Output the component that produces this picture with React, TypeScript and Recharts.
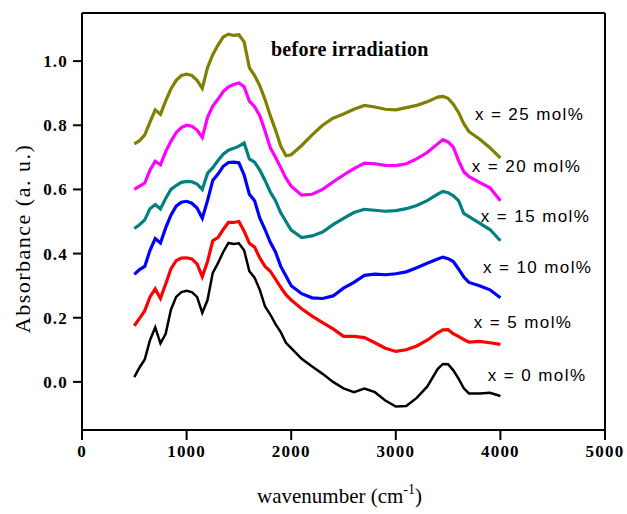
import React from 'react';
import { LineChart, Line, XAxis, YAxis, ReferenceLine, ReferenceDot } from 'recharts';

// Wavenumber grid (cm^-1) shared by all spectra
const wavenumbers = [
  500, 550, 600, 650, 700, 750, 800, 850, 900, 950, 1000, 1050, 1100, 1150, 1200, 1250, 1300, 1350,
  1400, 1450, 1500, 1550, 1600, 1650, 1700, 1750, 1800, 1850, 1900, 1950, 2000, 2100, 2200, 2300,
  2400, 2500, 2600, 2700, 2800, 2900, 3000, 3100, 3200, 3300, 3400, 3450, 3500, 3550, 3600, 3650,
  3700, 3800, 3900, 4000,
];

// Absorbance (a. u.) per composition
const abs0 = [
  0.015, 0.045, 0.07, 0.13, 0.17, 0.12, 0.15, 0.225, 0.265, 0.28, 0.284, 0.28, 0.265, 0.215, 0.255, 0.34, 0.37, 0.405,
  0.433, 0.43, 0.432, 0.41, 0.345, 0.325, 0.287, 0.235, 0.21, 0.18, 0.155, 0.122, 0.105, 0.072, 0.048, 0.025,
  0.0, -0.02, -0.032, -0.021, -0.032, -0.058, -0.077, -0.075, -0.05, -0.015, 0.04, 0.056, 0.055, 0.036, 0.01, -0.02,
  -0.036, -0.036, -0.034, -0.044,
];
const abs5 = [
  0.175, 0.198, 0.222, 0.265, 0.29, 0.26, 0.305, 0.352, 0.378, 0.386, 0.387, 0.383, 0.368, 0.328, 0.375, 0.44, 0.45, 0.475,
  0.497, 0.497, 0.5, 0.47, 0.432, 0.42, 0.386, 0.36, 0.345, 0.32, 0.295, 0.272, 0.255, 0.228, 0.205, 0.185,
  0.165, 0.142, 0.142, 0.138, 0.122, 0.105, 0.095, 0.1, 0.112, 0.13, 0.153, 0.162, 0.163, 0.15, 0.142, 0.132,
  0.124, 0.126, 0.122, 0.117,
];
const abs10 = [
  0.335, 0.35, 0.36, 0.41, 0.447, 0.433, 0.48, 0.52, 0.548, 0.56, 0.563, 0.557, 0.542, 0.51, 0.565, 0.628, 0.648, 0.672,
  0.684, 0.685, 0.683, 0.645, 0.585, 0.565, 0.51, 0.475, 0.435, 0.405, 0.36, 0.33, 0.3, 0.275, 0.262, 0.26,
  0.268, 0.292, 0.31, 0.332, 0.336, 0.334, 0.337, 0.343, 0.356, 0.37, 0.383, 0.389, 0.384, 0.375, 0.352, 0.327,
  0.31, 0.3, 0.287, 0.262,
];
const abs15 = [
  0.478, 0.49, 0.505, 0.54, 0.553, 0.539, 0.572, 0.6, 0.612, 0.622, 0.625, 0.624, 0.617, 0.6, 0.65, 0.668, 0.69, 0.71,
  0.722, 0.728, 0.735, 0.745, 0.695, 0.685, 0.66, 0.628, 0.592, 0.565, 0.527, 0.5, 0.473, 0.45, 0.455, 0.467,
  0.49, 0.51, 0.528, 0.538, 0.535, 0.532, 0.534, 0.54, 0.55, 0.565, 0.585, 0.594, 0.59, 0.58, 0.565, 0.525,
  0.515, 0.495, 0.475, 0.44,
];
const abs20 = [
  0.6, 0.61, 0.62, 0.66, 0.688, 0.677, 0.718, 0.75, 0.777, 0.793, 0.8, 0.797, 0.785, 0.762, 0.825, 0.86, 0.881, 0.905,
  0.92, 0.927, 0.932, 0.92, 0.875, 0.858, 0.83, 0.782, 0.73, 0.7, 0.668, 0.635, 0.61, 0.582, 0.585, 0.6,
  0.623, 0.645, 0.665, 0.682, 0.68, 0.675, 0.674, 0.68, 0.695, 0.715, 0.742, 0.755, 0.748, 0.732, 0.69, 0.655,
  0.64, 0.622, 0.605, 0.565,
];
const abs25 = [
  0.742, 0.752, 0.77, 0.81, 0.848, 0.834, 0.876, 0.913, 0.94, 0.955, 0.959, 0.955, 0.94, 0.915, 0.98, 1.02, 1.05, 1.075,
  1.084, 1.08, 1.082, 1.06, 0.98, 0.955, 0.923, 0.88, 0.83, 0.785, 0.735, 0.705, 0.708, 0.737, 0.77, 0.8,
  0.822, 0.835, 0.85, 0.862, 0.857, 0.85, 0.848, 0.855, 0.862, 0.873, 0.888, 0.89, 0.884, 0.866, 0.84, 0.805,
  0.78, 0.757, 0.73, 0.698,
];

const seriesNames = ['x = 0 mol%', 'x = 5 mol%', 'x = 10 mol%', 'x = 15 mol%', 'x = 20 mol%', 'x = 25 mol%'];
const seriesValues = [abs0, abs5, abs10, abs15, abs20, abs25];
const seriesColors = ['#000000', '#ff0000', '#0000ff', '#008080', '#ff00ff', '#808000'];
// Where each composition label sits, in data units (wavenumber, absorbance)
const labelAtX = [3880, 3746, 3833, 3813, 3727, 3756];
const labelAtY = [0.021, 0.184, 0.356, 0.515, 0.672, 0.834];

const xTicks = [0, 1000, 2000, 3000, 4000, 5000];
const yTicks = [0, 0.2, 0.4, 0.6, 0.8, 1.0];
const xDomain = [0, 5000];
const yDomain = [-0.15, 1.15];

const titleText = 'before irradiation';
const titleAtX = 2560;
const titleAtY = 1.037;

const chartData = wavenumbers.map((w, i) => {
  const row: Record<string, number> = { w };
  seriesValues.forEach((vals, k) => {
    row['s' + k] = vals[i];
  });
  return row;
});

const serif = '"Liberation Serif", "Times New Roman", serif';
const sans = '"Liberation Sans", Arial, sans-serif';

const tickStyle = { fontFamily: serif, fontSize: 17, fontWeight: 700, fill: '#000', letterSpacing: 1.2 };

const YTitle = (props: any) => {
  const vb = props.viewBox || { x: 0, y: 13, width: 82, height: 417 };
  const cx = vb.x + 22;
  const cy = vb.y + vb.height / 2 + 17;
  return (
    <text
      x={cx}
      y={cy}
      transform={`rotate(-90 ${cx} ${cy})`}
      textAnchor="middle"
      dominantBaseline="central"
      fontFamily={serif}
      fontSize={22}
      letterSpacing={1.5}
      fill="#000"
    >
      Absorbance (a. u.)
    </text>
  );
};

const XTitle = (props: any) => {
  const vb = props.viewBox || { x: 82, y: 430, width: 523, height: 30 };
  const cx = vb.x + vb.width / 2 - 4;
  const by = vb.y + 73;
  return (
    <text x={cx} y={by} textAnchor="middle" fontFamily={serif} fontSize={21} fill="#000">
      wavenumber (cm
      <tspan dy={-9} fontSize={14}>-1</tspan>
      <tspan dy={9}>)</tspan>
    </text>
  );
};

const makeSeriesLabel = (text: string) => (props: any) => {
  const vb = props.viewBox || { x: 0, y: 0 };
  return (
    <text
      x={vb.x}
      y={vb.y}
      textAnchor="start"
      dominantBaseline="central"
      fontFamily={sans}
      fontSize={17}
      letterSpacing={1.4}
      fill="#000"
    >
      {text}
    </text>
  );
};

const TitleLabel = (props: any) => {
  const vb = props.viewBox || { x: 0, y: 0 };
  return (
    <text
      x={vb.x}
      y={vb.y}
      textAnchor="middle"
      dominantBaseline="central"
      fontFamily={serif}
      fontSize={20}
      fontWeight={700}
      letterSpacing={0.3}
      fill="#000"
    >
      {titleText}
    </text>
  );
};

export default function App() {
  return (
    <div style={{ position: 'absolute', left: 0, top: 0, background: '#fff' }}>
      <LineChart
        width={627}
        height={514}
        data={chartData}
        margin={{ top: 13, right: 22, bottom: 54, left: 0 }}
      >
        <XAxis
          dataKey="w"
          type="number"
          domain={xDomain}
          ticks={xTicks}
          interval={0}
          allowDataOverflow
          height={30}
          axisLine={{ stroke: '#000', strokeWidth: 2 }}
          tickLine={{ stroke: '#000', strokeWidth: 2 }}
          tickSize={10}
          tickMargin={5}
          tick={tickStyle}
          label={<XTitle />}
        />
        <YAxis
          type="number"
          domain={yDomain}
          ticks={yTicks}
          interval={0}
          allowDataOverflow
          width={82}
          axisLine={{ stroke: '#000', strokeWidth: 2 }}
          tickLine={{ stroke: '#000', strokeWidth: 2 }}
          tickSize={9}
          tickMargin={5}
          tick={tickStyle}
          tickFormatter={(v: number) => v.toFixed(1)}
          label={<YTitle />}
        />
        <ReferenceLine y={yDomain[1]} stroke="#000" strokeWidth={2} />
        <ReferenceLine x={xDomain[1]} stroke="#000" strokeWidth={2} />
        {seriesNames.map((name, k) => (
          <Line
            key={name}
            name={name}
            dataKey={'s' + k}
            type="linear"
            stroke={seriesColors[k]}
            strokeWidth={k === 0 ? 2.5 : 3.2}
            dot={false}
            activeDot={false}
            isAnimationActive={false}
          />
        ))}
        {seriesNames.map((name, k) => (
          <ReferenceDot
            key={'lbl' + k}
            x={labelAtX[k]}
            y={labelAtY[k]}
            r={0}
            fill="none"
            stroke="none"
            label={makeSeriesLabel(name)}
          />
        ))}
        <ReferenceDot x={titleAtX} y={titleAtY} r={0} fill="none" stroke="none" label={TitleLabel} />
      </LineChart>
    </div>
  );
}
